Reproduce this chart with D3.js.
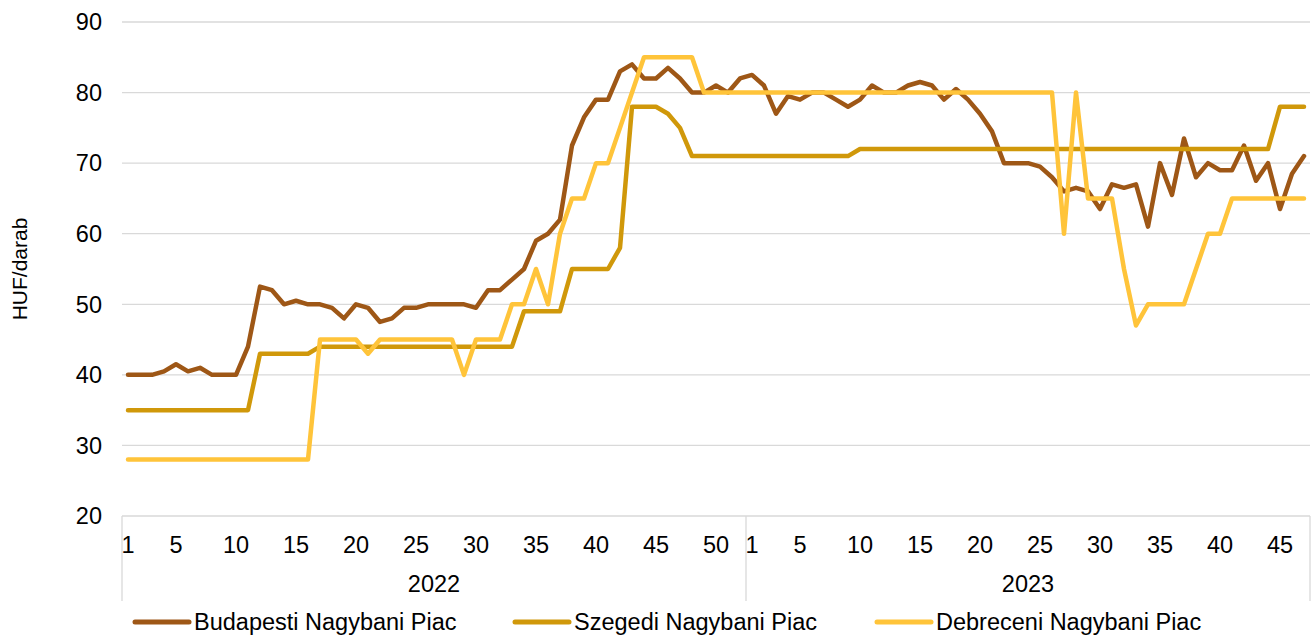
<!DOCTYPE html>
<html>
<head>
<meta charset="utf-8">
<script src="https://cdn.jsdelivr.net/npm/d3@7"></script>
<style>
  body { margin: 0; background: #fff; }
  svg { display: block; font-family: "Liberation Sans", Arial, sans-serif; }
</style>
</head>
<body>
<div id="chart"></div>
<script>
// weekly prices, HUF/darab
const years = ['2022', '2023']
const weeks2022 = d3.range(1, 53)
const weeks2023 = d3.range(1, 48)
const yTicks = [20, 30, 40, 50, 60, 70, 80, 90]

const budapest2022 = [40, 40, 40, 40.5, 41.5, 40.5, 41, 40, 40, 40, 44, 52.5, 52, 50, 50.5, 50, 50, 49.5, 48, 50,
  49.5, 47.5, 48, 49.5, 49.5, 50, 50, 50, 50, 49.5, 52, 52, 53.5, 55, 59, 60, 62, 72.5, 76.5, 79,
  79, 83, 84, 82, 82, 83.5, 82, 80, 80, 81, 80, 82]
const budapest2023 = [82.5, 81, 77, 79.5, 79, 80, 80, 79, 78, 79, 81, 80, 80, 81, 81.5, 81, 79, 80.5, 79, 77,
  74.5, 70, 70, 70, 69.5, 68, 66, 66.5, 66, 63.5, 67, 66.5, 67, 61, 70, 65.5, 73.5, 68, 70, 69,
  69, 72.5, 67.5, 70, 63.5, 68.5, 71]

const szeged2022 = [35, 35, 35, 35, 35, 35, 35, 35, 35, 35, 35, 43, 43, 43, 43, 43, 44, 44, 44, 44,
  44, 44, 44, 44, 44, 44, 44, 44, 44, 44, 44, 44, 44, 49, 49, 49, 49, 55, 55, 55,
  55, 58, 78, 78, 78, 77, 75, 71, 71, 71, 71, 71]
const szeged2023 = [71, 71, 71, 71, 71, 71, 71, 71, 71, 72, 72, 72, 72, 72, 72, 72, 72, 72, 72, 72,
  72, 72, 72, 72, 72, 72, 72, 72, 72, 72, 72, 72, 72, 72, 72, 72, 72, 72, 72, 72,
  72, 72, 72, 72, 78, 78, 78]

const debrecen2022 = [28, 28, 28, 28, 28, 28, 28, 28, 28, 28, 28, 28, 28, 28, 28, 28, 45, 45, 45, 45,
  43, 45, 45, 45, 45, 45, 45, 45, 40, 45, 45, 45, 50, 50, 55, 50, 60, 65, 65, 70,
  70, 75, 80, 85, 85, 85, 85, 85, 80, 80, 80, 80]
const debrecen2023 = [80, 80, 80, 80, 80, 80, 80, 80, 80, 80, 80, 80, 80, 80, 80, 80, 80, 80, 80, 80,
  80, 80, 80, 80, 80, 80, 60, 80, 65, 65, 65, 55, 47, 50, 50, 50, 50, 55, 60, 60,
  65, 65, 65, 65, 65, 65, 65]

const seriesNames = ['Budapesti Nagybani Piac', 'Szegedi Nagybani Piac', 'Debreceni Nagybani Piac']
const seriesColors = ['#9E5716', '#D0980A', '#FFC43A']

const width = 1311
const height = 635
const margin = { top: 22, right: 1, bottom: 119, left: 122 }
const fontSize = 23.5

// one category per week across both years
const categories = [
  ...weeks2022.map(w => ({ year: '2022', week: w })),
  ...weeks2023.map(w => ({ year: '2023', week: w }))
]
const series = [
  budapest2022.concat(budapest2023),
  szeged2022.concat(szeged2023),
  debrecen2022.concat(debrecen2023)
]

const svg = d3.select('#chart').append('svg')
  .attr('width', width)
  .attr('height', height)

const x = d3.scaleBand()
  .domain(d3.range(categories.length))
  .range([margin.left, width - margin.right])
  .padding(0)
const xc = i => x(i) + x.bandwidth() / 2

const y = d3.scaleLinear()
  .domain([20, 90])
  .range([height - margin.bottom, margin.top])

// gridlines
svg.append('g')
  .selectAll('line')
  .data(yTicks.filter(t => t > 20))
  .join('line')
  .attr('x1', margin.left)
  .attr('x2', width - margin.right)
  .attr('y1', d => y(d))
  .attr('y2', d => y(d))
  .attr('stroke', '#d9d9d9')
  .attr('stroke-width', 1.3)

// y tick labels
svg.append('g')
  .selectAll('text')
  .data(yTicks)
  .join('text')
  .attr('x', 102)
  .attr('y', d => y(d))
  .attr('dy', '0.35em')
  .attr('text-anchor', 'end')
  .attr('font-size', fontSize)
  .attr('fill', '#000')
  .text(d => d)

svg.append('text')
  .attr('transform', `translate(27,${(margin.top + height - margin.bottom) / 2}) rotate(-90)`)
  .attr('text-anchor', 'middle')
  .attr('font-size', 21)
  .attr('fill', '#000')
  .text('HUF/darab')

// category axis: baseline + year separators
const axisY = y(20)
const xAxis = svg.append('g')
xAxis.append('line')
  .attr('x1', margin.left).attr('x2', width - margin.right)
  .attr('y1', axisY).attr('y2', axisY)
  .attr('stroke', '#d9d9d9').attr('stroke-width', 1.3)

const sepIdx = [0, weeks2022.length, categories.length]
const sepX = i => i < categories.length ? x(i) : width - margin.right
xAxis.selectAll('line.sep')
  .data(sepIdx)
  .join('line')
  .attr('class', 'sep')
  .attr('x1', d => sepX(d))
  .attr('x2', d => sepX(d))
  .attr('y1', axisY)
  .attr('y2', 601)
  .attr('stroke', '#d9d9d9').attr('stroke-width', 1.3)

xAxis.selectAll('text.week')
  .data(categories.map((c, i) => ({ ...c, i })).filter(c => c.week === 1 || c.week % 5 === 0))
  .join('text')
  .attr('class', 'week')
  .attr('x', d => xc(d.i))
  .attr('y', 553)
  .attr('text-anchor', 'middle')
  .attr('font-size', fontSize)
  .attr('fill', '#000')
  .text(d => d.week)

xAxis.selectAll('text.year')
  .data(years)
  .join('text')
  .attr('class', 'year')
  .attr('x', (d, k) => (sepX(sepIdx[k]) + sepX(sepIdx[k + 1])) / 2)
  .attr('y', 592)
  .attr('text-anchor', 'middle')
  .attr('font-size', fontSize)
  .attr('fill', '#000')
  .text(d => d)

// lines
const line = d3.line()
  .x((d, i) => xc(i))
  .y(d => y(d))

svg.append('g')
  .selectAll('path')
  .data(series)
  .join('path')
  .attr('d', d => line(d))
  .attr('fill', 'none')
  .attr('stroke', (d, i) => seriesColors[i])
  .attr('stroke-width', 4.5)
  .attr('stroke-linejoin', 'round')
  .attr('stroke-linecap', 'round')

// legend
const legendX = [135, 515, 877]
const legend = svg.append('g')
  .selectAll('g')
  .data(seriesNames)
  .join('g')
  .attr('transform', (d, i) => `translate(${legendX[i]},622)`)
legend.append('line')
  .attr('x1', 0).attr('x2', 54)
  .attr('stroke', (d, i) => seriesColors[i])
  .attr('stroke-width', 5)
  .attr('stroke-linecap', 'round')
legend.append('text')
  .attr('x', 59)
  .attr('dy', '0.35em')
  .attr('font-size', fontSize)
  .attr('fill', '#000')
  .text(d => d)
</script>
</body>
</html>
